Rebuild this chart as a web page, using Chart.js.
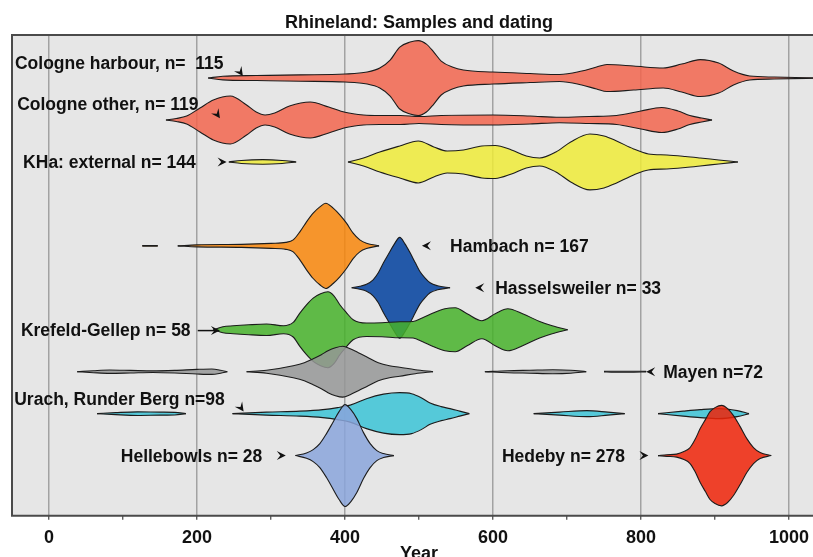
<!DOCTYPE html>
<html>
<head>
<meta charset="utf-8">
<title>Rhineland: Samples and dating</title>
<script src="https://cdn.jsdelivr.net/npm/chart.js@4.4.0/dist/chart.umd.min.js"></script>
<style>
    html, body { margin: 0; padding: 0; background: #fff; overflow: hidden; }
    #wrap { width: 830px; height: 563px; }
</style>
</head>
<body>
<div id="wrap"><canvas id="violins" width="830" height="563"></canvas></div>
<script>
// ------------------------------------------
// Data
// rows counted from the top (row 3 stays empty), density = half width of the violin
// ------------------------------------------
const harbourYears   = [215, 235, 280, 340, 400, 430, 447, 461, 474, 488, 499, 510, 520, 530, 545, 560, 600, 650, 690, 720, 740, 754, 790, 830, 855, 880, 905, 925, 947, 980, 1045];
const harbourDensity = [0, 1.8, 2.5, 3.2, 4, 6, 10, 18, 31, 36, 37.5, 34, 26, 17, 11, 8, 6, 4.5, 3.5, 7, 11, 13.5, 12, 10, 14, 18.5, 15, 7, 2, 1, 0];

const otherYears   = [158, 172, 186, 204, 222, 245, 267, 280, 292, 305, 325, 353, 378, 400, 425, 447, 475, 500, 530, 600, 650, 690, 730, 767, 800, 828, 850, 866, 882, 896];
const otherDensity = [0, 1.5, 4, 12, 20, 24, 15, 8, 5, 7, 14, 18, 13, 7.7, 5, 4.5, 4.5, 3.5, 4.5, 5, 4, 2.7, 3.5, 4.5, 9, 12.5, 9, 4.5, 2, 0];

const khaYearsA   = [243, 260, 289, 315, 334];
const khaDensityA = [0, 1.5, 2.3, 1.5, 0];
const khaYearsB   = [404, 425, 447, 474, 499, 520, 538, 560, 585, 603, 625, 645, 663, 685, 705, 731, 750, 767, 790, 810, 835, 860, 880, 905, 931];
const khaDensityB = [0, 4, 10, 16, 21, 15, 11, 12, 16, 16.5, 12, 6, 4, 10, 20, 28, 26, 21, 13, 8, 7, 5.5, 4, 2, 0];

const hambachYearsA   = [126, 136, 147];
const hambachDensityA = [0.3, 0.4, 0.3];
const hambachYearsB   = [174, 200, 260, 300, 320, 330, 339, 348, 357, 366, 374, 384, 393, 402, 411, 420, 429, 446];
const hambachDensityB = [0, 1, 1.5, 2.5, 3.5, 6, 14, 24, 32.7, 39, 42.7, 37.7, 31, 22.7, 12.7, 6, 2.7, 0];

const hasselYears   = [409, 420, 429, 438, 445, 452, 459, 466, 474, 481, 488, 495, 501, 508, 515, 525, 542];
const hasselDensity = [0, 1.5, 3.5, 8, 15, 25, 34, 43, 50.5, 44, 35, 25, 16.6, 10, 5, 2, 0];

const krefeldYears   = [222, 235, 249, 270, 294, 317, 330, 339, 348, 357, 367, 377, 385, 393, 402, 411, 429, 450, 474, 492, 505, 519, 535, 549, 565, 585, 603, 620, 640, 663, 680, 701];
const krefeldDensity = [0, 3, 4, 5, 5.7, 4, 7.3, 16.7, 25, 31.7, 36, 38, 34, 25, 17, 10, 6.7, 7, 8, 8.3, 12, 16.7, 21, 22, 16, 9, 16, 21, 16, 8.3, 4, 0];

const mayenYearsA   = [38, 60, 82, 110, 140, 170, 200, 220, 232, 241];
const mayenDensityA = [0, 1, 1.7, 1.3, 0.8, 1.3, 2.3, 2.7, 1.5, 0];
const mayenYearsB   = [267, 294, 330, 345, 357, 368, 377, 387, 397, 407, 418, 429, 445, 460, 474, 495, 519];
const mayenDensityB = [0, 1.5, 6, 9, 13, 17, 21, 24, 25.5, 23, 19, 15, 9, 6, 4.5, 2, 0];
const mayenYearsC   = [589, 620, 650, 681, 705, 726];
const mayenDensityC = [0, 1, 1.5, 2, 1.5, 0];
const mayenYearsD   = [750, 760, 790, 807];
const mayenDensityD = [0.3, 0.5, 0.5, 0.3];

const urachYearsA   = [65, 90, 120, 150, 170, 185];
const urachDensityA = [0, 1, 1.8, 1.5, 1.3, 0];
const urachYearsB   = [248, 294, 339, 370, 390, 407, 429, 452, 474, 490, 503, 515, 530, 542, 555, 568];
const urachDensityB = [0, 1.5, 2.5, 4, 6, 8.5, 15, 19.5, 21, 20, 16, 10.7, 7, 5, 2.5, 0];
const urachYearsC   = [655, 690, 727, 755, 778];
const urachDensityC = [0, 1.5, 3, 1.5, 0];
const urachYearsD   = [823, 857, 880, 905, 930, 946];
const urachDensityD = [0, 2.5, 4, 5, 3, 0];

const helleYears   = [333, 348, 357, 366, 375, 384, 392, 400, 408, 416, 425, 434, 443, 452, 466];
const helleDensity = [0, 2.7, 6, 12, 22, 33.7, 44, 51, 46, 37, 23, 12, 5, 2, 0];

const hedebyYears   = [823, 835, 848, 858, 866, 873, 880, 887, 893, 900, 909, 917, 925, 934, 943, 952, 961, 976];
const hedebyDensity = [0, 0.8, 1.5, 4, 7.7, 16, 27, 36, 43.7, 48, 50.3, 47, 40, 29, 17, 8, 3, 0];

// labels and their arrows (year, row)
const labelTexts = ['Cologne harbour, n=  115', 'Cologne other, n= 119', 'KHa: external n= 144', 'Hambach n= 167',
                    'Hasselsweiler n= 33', 'Krefeld-Gellep n= 58', 'Mayen n=72', 'Urach, Runder Berg n=98',
                    'Hellebowls n= 28', 'Hedeby n= 278'];
const labelYears = [-46, -43, -35, 542, 603, -38, 830, -47, 97, 612];
const labelRows  = [-0.34, 0.65, 2.03, 4.03, 5.03, 6.03, 7.03, 7.67, 9.03, 9.03];

const arrowYears  = [262, 231, 240, 504, 576, 231, 807, 263, 320, 810];
const arrowRows   = [-0.05, 0.96, 2, 4, 5, 6.02, 7, 7.95, 9, 9];
const arrowAngles = [55, 55, 0, 180, 180, 0, 180, 55, 0, 0];
const arrowTails  = [null, null, null, null, null, 201, null, null, null, null];

const tickYears  = [0, 100, 200, 300, 400, 500, 600, 700, 800, 900, 1000];
const tickLabels = ['0', '', '200', '', '400', '', '600', '', '800', '', '1000'];

const FONT = '"Liberation Sans", Arial, Helvetica, sans-serif';
const widthScale = 1 / 42; // density -> rows

const sites = [
    { row: 0, color: 'rgba(242,101,77,0.85)',  segments: [[harbourYears, harbourDensity]] },
    { row: 1, color: 'rgba(242,101,77,0.85)',  segments: [[otherYears, otherDensity]] },
    { row: 2, color: 'rgba(239,235,56,0.85)',  segments: [[khaYearsA, khaDensityA], [khaYearsB, khaDensityB]] },
    { row: 4, color: 'rgba(248,134,11,0.85)',  segments: [[hambachYearsA, hambachDensityA], [hambachYearsB, hambachDensityB]] },
    { row: 5, color: 'rgba(0,63,157,0.85)',    segments: [[hasselYears, hasselDensity]] },
    { row: 6, color: 'rgba(71,177,42,0.85)',   segments: [[krefeldYears, krefeldDensity]] },
    { row: 7, color: 'rgba(149,151,151,0.85)', segments: [[mayenYearsA, mayenDensityA], [mayenYearsB, mayenDensityB], [mayenYearsC, mayenDensityC], [mayenYearsD, mayenDensityD]] },
    { row: 8, color: 'rgba(59,195,214,0.85)',  segments: [[urachYearsA, urachDensityA], [urachYearsB, urachDensityB], [urachYearsC, urachDensityC], [urachYearsD, urachDensityD]] },
    { row: 9, color: 'rgba(138,164,218,0.85)', segments: [[helleYears, helleDensity]] },
    { row: 9, color: 'rgba(239,35,8,0.85)',    segments: [[hedebyYears, hedebyDensity]] }
];

// each violin piece = upper outline + lower outline filled to it
const datasets = [];
sites.forEach(site => {
    const base = (20 - site.row) * 2; // lower rows drawn on top
    site.segments.forEach(([years, dens]) => {
        const common = {
            type: 'line', borderColor: '#1c1c1c', borderWidth: 1.1, pointRadius: 0,
            cubicInterpolationMode: 'monotone'
        };
        datasets.push(Object.assign({}, common, {
            data: years.map((x, i) => ({ x: x, y: site.row - dens[i] * widthScale })),
            order: base, fill: false
        }));
        datasets.push(Object.assign({}, common, {
            data: years.map((x, i) => ({ x: x, y: site.row + dens[i] * widthScale })),
            order: base + 1, fill: '-1', backgroundColor: site.color
        }));
    });
});

// grey panel + frame
const plotFrame = {
    id: 'plotFrame',
    beforeDraw(chart) {
        const { ctx, chartArea: a } = chart;
        ctx.save();
        ctx.fillStyle = '#e6e6e6';
        ctx.fillRect(a.left, a.top, a.right - a.left, a.bottom - a.top);
        ctx.restore();
    },
    afterDraw(chart) {
        const { ctx, chartArea: a } = chart;
        ctx.save();
        ctx.strokeStyle = '#4a4a4a';
        ctx.lineWidth = 2;
        ctx.beginPath();
        ctx.moveTo(a.right + 5, a.top);
        ctx.lineTo(a.left, a.top);
        ctx.lineTo(a.left, a.bottom);
        ctx.lineTo(a.right + 5, a.bottom);
        ctx.stroke();
        ctx.restore();
    }
};

// site labels + little arrowheads
const notes = {
    id: 'notes',
    afterDatasetsDraw(chart) {
        const { ctx, scales: { x, y } } = chart;
        ctx.save();
        ctx.fillStyle = '#111';
        ctx.strokeStyle = '#111';
        arrowYears.forEach((yr, i) => {
            const px = x.getPixelForValue(yr);
            const py = y.getPixelForValue(arrowRows[i]);
            if (arrowTails[i] !== null) {
                ctx.lineWidth = 1.5;
                ctx.beginPath();
                ctx.moveTo(x.getPixelForValue(arrowTails[i]), py);
                ctx.lineTo(px - 4, py);
                ctx.stroke();
            }
            ctx.save();
            ctx.translate(px, py);
            ctx.rotate(arrowAngles[i] * Math.PI / 180);
            ctx.beginPath();
            ctx.moveTo(0, 0);
            ctx.lineTo(-9, -4.5);
            ctx.lineTo(-5.5, 0);
            ctx.lineTo(-9, 4.5);
            ctx.closePath();
            ctx.fill();
            ctx.restore();
        });
        ctx.font = 'bold 17.5px ' + FONT;
        ctx.textBaseline = 'middle';
        ctx.textAlign = 'left';
        labelTexts.forEach((t, i) => {
            ctx.fillText(t, x.getPixelForValue(labelYears[i]), y.getPixelForValue(labelRows[i]));
        });
        ctx.restore();
    }
};

new Chart(document.getElementById('violins').getContext('2d'), {
    type: 'line',
    data: { datasets: datasets },
    options: {
        responsive: false,
        animation: false,
        devicePixelRatio: 1,
        layout: { padding: { left: 12, right: 4, top: 0, bottom: 0 } },
        plugins: {
            legend: { display: false },
            tooltip: { enabled: false },
            title: {
                display: true,
                text: 'Rhineland: Samples and dating',
                color: '#111',
                font: { family: FONT, size: 18, weight: 'bold', lineHeight: 1.2 },
                padding: { top: 12, bottom: 1.5 }
            }
        },
        scales: {
            x: {
                type: 'linear',
                min: -50,
                max: 1050,
                afterBuildTicks(axis) { axis.ticks = tickYears.map(v => ({ value: v })); },
                border: { display: false },
                grid: {
                    color: c => (c.tick && c.tick.value % 200 === 0) ? '#a2a2a2' : 'rgba(0,0,0,0)',
                    lineWidth: 1.5,
                    tickColor: '#444',
                    tickLength: 4,
                    tickWidth: 1.2
                },
                ticks: {
                    callback: (v, i) => tickLabels[i],
                    autoSkip: false,
                    maxRotation: 0,
                    padding: 8,
                    color: '#111',
                    font: { family: FONT, size: 18, weight: 'bold', lineHeight: 1.1 }
                },
                title: {
                    display: true,
                    text: 'Year',
                    color: '#111',
                    padding: { top: -10.5, bottom: 0 },
                    font: { family: FONT, size: 18, weight: 'bold', lineHeight: 1 }
                }
            },
            y: {
                type: 'linear',
                reverse: true,
                min: -1.024,
                max: 10.433,
                display: false
            }
        }
    },
    plugins: [plotFrame, notes]
});
</script>
</body>
</html>
